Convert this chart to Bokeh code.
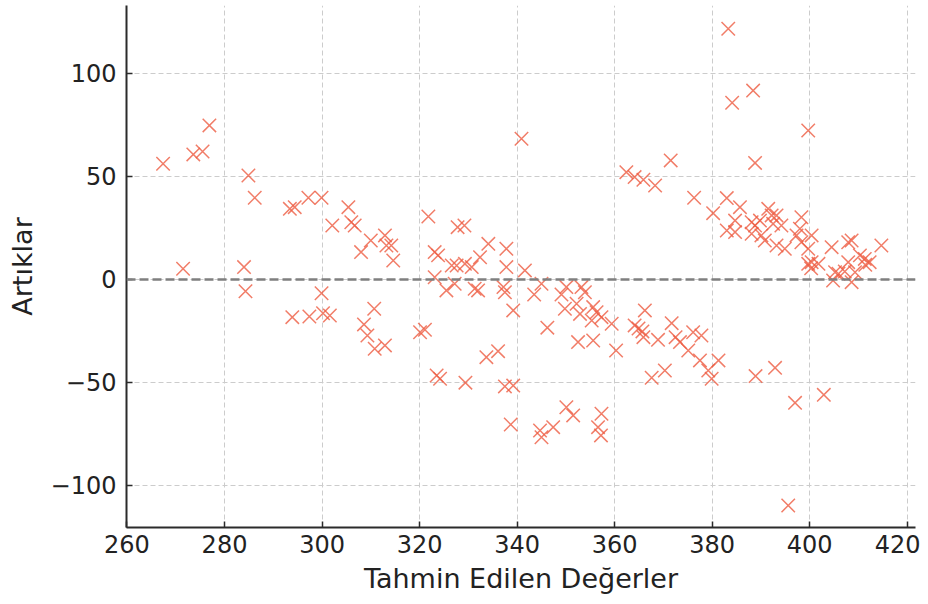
from bokeh.plotting import figure
from bokeh.models import Span, FixedTicker, Range1d
from bokeh.embed import file_html
from bokeh.resources import INLINE

predicted = [
    267.4, 271.5, 273.6, 275.5, 276.9, 284.9, 286.2, 284.0, 284.3, 293.4, 294.4, 297.2, 299.9, 302.1, 299.9, 293.9, 297.4, 300.2, 301.6,
    305.4, 306.0, 306.7, 308.0, 310.0, 312.9, 313.2, 314.2, 314.6, 321.8, 323.1, 323.8, 323.1, 327.8, 329.2, 334.1, 337.8, 326.6, 327.6,
    329.3, 330.7, 332.4, 337.8, 341.6, 325.5, 327.2, 331.3, 332.0, 337.2, 337.5, 340.9,
    310.7, 308.6, 309.3, 310.8, 312.9, 320.1, 321.1, 339.2, 333.7, 336.1, 323.5, 324.2, 329.4, 337.5, 339.2, 338.7,
    345.0, 343.5, 349.1, 350.1, 353.2, 353.9, 349.8, 352.2, 352.9, 355.6, 356.3, 355.3, 357.3, 359.4, 346.2, 352.5, 355.6, 360.3,
    362.4, 364.1, 365.9, 368.3, 371.5, 376.3, 380.2, 364.1, 364.9, 365.7, 366.2, 365.9, 368.9, 371.7, 372.5, 373.4, 376.1, 377.8,
    375.1, 377.5, 379.2, 379.9, 381.3, 367.6, 370.3, 350.1, 351.5, 357.3, 356.6, 357.2, 344.7, 345.0, 347.4,
    383.3, 384.1, 388.4, 399.7, 388.8, 383.0, 385.7, 384.7, 383.0, 384.7, 388.1, 388.8, 389.8, 391.5, 392.2, 393.2, 392.5, 394.2,
    388.1, 390.1, 390.8, 393.2, 394.9, 397.3, 398.3, 398.0, 400.4, 398.3, 399.7, 400.4, 401.8, 399.7, 404.5, 407.9, 408.6, 410.3,
    411.3, 414.7, 409.3, 405.2, 405.9, 408.6, 404.8, 407.9, 412.3,
    388.9, 392.9, 397.0, 402.9, 395.6,
    400.3, 407.2, 411.4,
]

residuals = [
    56.2, 5.2, 60.7, 62.1, 74.8, 50.5, 39.7, 6.0, -5.7, 34.3, 35.1, 39.7, 39.7, 26.2, -6.7, -18.3, -18.0, -16.4, -17.5,
    35.1, 27.8, 26.2, 13.3, 18.9, 21.4, 16.5, 16.5, 9.2, 30.6, 13.3, 11.7, 1.1, 25.4, 26.2, 17.3, 14.9, 6.8, 6.8,
    7.6, 6.0, 10.8, 6.0, 4.4, -5.3, -2.1, -4.5, -5.3, -3.7, -6.2, 68.3,
    -14.2, -21.8, -27.2, -33.6, -32.0, -25.6, -24.4, -15.0, -37.7, -34.8, -46.6, -48.2, -50.1, -51.9, -51.5, -70.4,
    -2.1, -7.3, -7.3, -3.7, -3.7, -6.2, -14.2, -11.8, -16.7, -13.4, -15.9, -19.9, -18.3, -21.5, -23.4, -30.4, -29.6, -34.5,
    52.1, 49.7, 48.4, 45.6, 57.8, 39.7, 32.2, -22.3, -23.8, -25.2, -15.0, -28.0, -29.3, -21.2, -28.0, -30.4, -25.6, -27.2,
    -34.5, -39.3, -44.2, -48.2, -39.3, -47.7, -44.2, -62.0, -66.0, -65.2, -71.7, -75.7, -73.3, -76.6, -71.7,
    121.7, 85.8, 91.7, 72.3, 56.6, 39.5, 35.1, 28.6, 23.8, 23.0, 27.8, 26.2, 28.6, 34.3, 31.1, 31.1, 27.0, 26.2,
    22.2, 21.4, 18.9, 16.5, 14.9, 21.4, 30.2, 24.6, 21.4, 18.1, 14.9, 8.4, 7.6, 7.6, 15.7, 18.1, 18.9, 11.7,
    10.0, 16.5, 3.5, 3.5, 2.8, -1.3, -0.5, 8.4, 8.4,
    -46.9, -42.9, -59.9, -56.0, -109.7,
    5.4, 3.9, 7.1,
]

x_ticks = [260, 280, 300, 320, 340, 360, 380, 400, 420]
y_ticks = [-100, -50, 0, 50, 100]
x_label = "Tahmin Edilen Değerler"
y_label = "Artıklar"

FONT = "DejaVu Sans"

p = figure(width=920, height=600, output_backend="svg", toolbar_location=None,
           x_range=Range1d(259.9, 421.7), y_range=Range1d(-120.4, 133.0),
           min_border_left=126, min_border_right=5, min_border_top=5, min_border_bottom=73)
p.outline_line_color = None
p.background_fill_color = "white"

p.scatter(predicted, residuals, marker="x", size=19, line_color="#EE5C42",
          line_width=1.5, line_alpha=0.8)

zero = Span(location=0, dimension="width", line_color="#7f7f7f", line_width=2.5, line_dash="9 4")
p.add_layout(zero)

for ax in (p.xaxis[0], p.yaxis[0]):
    ax.axis_line_color = "#2b2b2b"
    ax.axis_line_width = 2
    ax.major_tick_in = 6
    ax.major_tick_out = 0
    ax.major_tick_line_color = "#2b2b2b"
    ax.major_tick_line_width = 1.5
    ax.minor_tick_line_color = None
    ax.major_label_text_font = FONT
    ax.major_label_text_font_size = "24px"
    ax.major_label_text_color = "#222222"
    ax.axis_label_text_font = FONT
    ax.axis_label_text_font_size = "27px"
    ax.axis_label_text_font_style = "normal"
    ax.axis_label_text_color = "#222222"

p.xaxis.ticker = FixedTicker(ticks=x_ticks)
p.yaxis.ticker = FixedTicker(ticks=y_ticks)
p.xaxis.axis_label = x_label
p.yaxis.axis_label = y_label
p.xaxis.major_label_standoff = 7
p.xaxis.axis_label_standoff = 7
p.yaxis.major_label_standoff = 10
p.yaxis.axis_label_standoff = 10

for g in (p.xgrid[0], p.ygrid[0]):
    g.grid_line_color = "#cccccc"
    g.grid_line_dash = "5 3"
    g.grid_line_width = 1

open("out.html", "w").write(file_html(p, INLINE))
